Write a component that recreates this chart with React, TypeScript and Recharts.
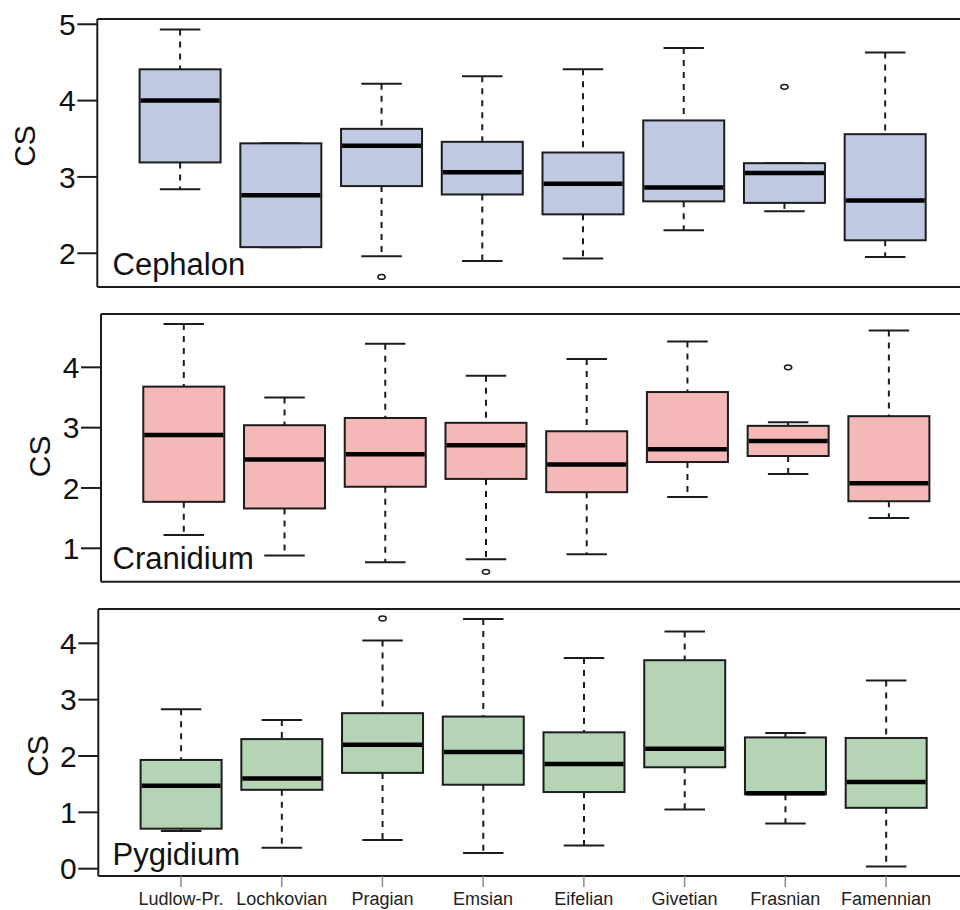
import React from 'react';
import { ComposedChart, Bar, XAxis, YAxis, Label } from 'recharts';

const periods = ['Ludlow-Pr.', 'Lochkovian', 'Pragian', 'Emsian', 'Eifelian', 'Givetian', 'Frasnian', 'Famennian'];

// Cephalon
const cephLow = [2.84, 2.08, 1.96, 1.90, 1.93, 2.30, 2.55, 1.95];
const cephQ1 = [3.19, 2.08, 2.88, 2.77, 2.51, 2.68, 2.66, 2.17];
const cephMed = [4.00, 2.76, 3.41, 3.06, 2.91, 2.86, 3.05, 2.69];
const cephQ3 = [4.41, 3.44, 3.63, 3.46, 3.32, 3.74, 3.18, 3.56];
const cephHigh = [4.93, 3.44, 4.22, 4.32, 4.41, 4.69, 3.18, 4.63];
const cephOut = [null, null, 1.69, null, null, null, 4.18, null];
const cephTicks = [2, 3, 4, 5];

// Cranidium
const cranLow = [1.22, 0.88, 0.77, 0.82, 0.90, 1.85, 2.23, 1.50];
const cranQ1 = [1.77, 1.66, 2.02, 2.15, 1.93, 2.43, 2.53, 1.78];
const cranMed = [2.88, 2.47, 2.56, 2.71, 2.39, 2.64, 2.78, 2.08];
const cranQ3 = [3.68, 3.04, 3.16, 3.08, 2.94, 3.59, 3.03, 3.19];
const cranHigh = [4.72, 3.50, 4.39, 3.86, 4.14, 4.43, 3.09, 4.61];
const cranOut = [null, null, null, 0.61, null, null, 4.00, null];
const cranTicks = [1, 2, 3, 4];

// Pygidium
const pygLow = [0.67, 0.37, 0.51, 0.28, 0.41, 1.05, 0.80, 0.04];
const pygQ1 = [0.71, 1.40, 1.70, 1.49, 1.36, 1.80, 1.32, 1.08];
const pygMed = [1.47, 1.60, 2.20, 2.07, 1.86, 2.13, 1.34, 1.54];
const pygQ3 = [1.93, 2.30, 2.76, 2.70, 2.42, 3.70, 2.33, 2.32];
const pygHigh = [2.83, 2.64, 4.05, 4.43, 3.74, 4.21, 2.41, 3.34];
const pygOut = [null, null, 4.44, null, null, null, null, null];
const pygTicks = [0, 1, 2, 3, 4];

const build = (low: number[], q1: number[], med: number[], q3: number[], high: number[], out: (number | null)[]) =>
  periods.map((cat, i) => ({ cat, low: low[i], q1: q1[i], med: med[i], q3: q3[i], high: high[i], out: out[i] }));

const cephData = build(cephLow, cephQ1, cephMed, cephQ3, cephHigh, cephOut);
const cranData = build(cranLow, cranQ1, cranMed, cranQ3, cranHigh, cranOut);
const pygData = build(pygLow, pygQ1, pygMed, pygQ3, pygHigh, pygOut);

const FONT = '"Liberation Sans", Arial, Helvetica, sans-serif';
const INK = '#1c1c1c';

const BoxShape = (props: any) => {
  const { x, y, width, height, payload, fill } = props;
  if (payload == null) return null;
  const top = Math.min(y, y + height);
  const bottom = Math.max(y, y + height);
  const { low, q1, med, q3, high, out } = payload;
  const k = high - low !== 0 ? (bottom - top) / (high - low) : 0;
  const py = (v: number) => top + (high - v) * k;
  const cx = x + width / 2;
  const capHalf = width / 4;
  const yQ3 = py(q3);
  const yQ1 = py(q1);
  const yMed = py(med);
  return (
    <g>
      <line x1={cx} x2={cx} y1={top} y2={yQ3} stroke={INK} strokeWidth={2} strokeDasharray="6 6" />
      <line x1={cx} x2={cx} y1={yQ1} y2={bottom} stroke={INK} strokeWidth={2} strokeDasharray="6 6" />
      <line x1={cx - capHalf} x2={cx + capHalf} y1={top} y2={top} stroke={INK} strokeWidth={2} />
      <line x1={cx - capHalf} x2={cx + capHalf} y1={bottom} y2={bottom} stroke={INK} strokeWidth={2} />
      <rect x={x} y={yQ3} width={width} height={yQ1 - yQ3} fill={fill} stroke={INK} strokeWidth={2} />
      <line x1={x + 1} x2={x + width - 1} y1={yMed} y2={yMed} stroke="#000" strokeWidth={4.5} />
      {out != null ? (
        <ellipse cx={cx} cy={py(out)} rx={3.6} ry={2.4} fill="none" stroke={INK} strokeWidth={1.5} />
      ) : null}
    </g>
  );
};

type PanelProps = {
  top: number;
  height: number;
  marginTop: number;
  marginBottom: number;
  marginRight: number;
  yWidth: number;
  domain: [number, number];
  ticks: number[];
  data: any[];
  fill: string;
  name: string;
  csX: number;
  csDy: number;
  nameX: number;
  nameDy: number;
  showX: boolean;
};

const Panel = (p: PanelProps) => {
  const labelContent = (lp: any) => {
    const vb = lp.viewBox || {};
    const cy = vb.y + vb.height / 2 + p.csDy;
    return (
      <g>
        <text
          x={p.csX}
          y={cy}
          transform={`rotate(-90, ${p.csX}, ${cy})`}
          textAnchor="middle"
          dominantBaseline="central"
          fontSize={30}
          fill="#111"
          fontFamily={FONT}
        >
          CS
        </text>
        <text x={p.nameX} y={vb.y + vb.height + p.nameDy} fontSize={31} fill="#111" fontFamily={FONT}>
          {p.name}
        </text>
      </g>
    );
  };
  return (
    <div style={{ position: 'absolute', left: 0, top: p.top, width: 1000, height: p.height }}>
      <ComposedChart
        width={1000}
        height={p.height}
        data={p.data}
        margin={{ top: p.marginTop - 1, bottom: p.showX ? p.marginBottom : p.marginBottom - 1, left: 0, right: p.marginRight }}
        style={{ fontFamily: FONT }}
      >
        <XAxis
          dataKey="cat"
          type="category"
          padding={{ left: 32.3, right: 32.3 }}
          axisLine={{ stroke: INK, strokeWidth: 2 }}
          tick={p.showX ? { fontSize: 18, fill: '#222', fontFamily: FONT } : false}
          tickLine={p.showX ? { stroke: '#8a8a8a', strokeWidth: 1.5 } : false}
          tickSize={11}
          tickMargin={5}
          interval={0}
          height={p.showX ? 34 : 1}
        />
        <XAxis
          xAxisId="top"
          dataKey="cat"
          type="category"
          orientation="top"
          axisLine={{ stroke: INK, strokeWidth: 2 }}
          tick={false}
          tickLine={false}
          height={1}
        />
        <YAxis
          type="number"
          domain={p.domain}
          ticks={p.ticks}
          allowDataOverflow
          interval={0}
          width={p.yWidth}
          axisLine={{ stroke: INK, strokeWidth: 2 }}
          tickLine={{ stroke: INK, strokeWidth: 2 }}
          tickSize={20}
          tickMargin={1.5}
          tick={{ fontSize: 30, fill: '#111', fontFamily: FONT }}
        >
          <Label content={labelContent} />
        </YAxis>
        <Bar
          dataKey={(d: any) => [d.low, d.high]}
          barSize={81}
          fill={p.fill}
          shape={<BoxShape />}
          isAnimationActive={false}
        />
      </ComposedChart>
    </div>
  );
};

export default function App() {
  return (
    <div
      style={{
        position: 'absolute',
        left: 0,
        top: 0,
        width: 960,
        height: 910,
        overflow: 'hidden',
        background: '#fff',
        fontFamily: FONT,
      }}
    >
      <Panel
        top={0}
        height={290}
        marginTop={19}
        marginBottom={3}
        marginRight={32.3}
        yWidth={97.3}
        domain={[1.558, 5.069]}
        ticks={cephTicks}
        data={cephData}
        fill="#BFC9E2"
        name="Cephalon"
        csX={24}
        csDy={-7}
        nameX={112.5}
        nameDy={-12}
        showX={false}
      />
      <Panel
        top={295}
        height={290}
        marginTop={19}
        marginBottom={3.3}
        marginRight={28.6}
        yWidth={101}
        domain={[0.446, 4.884]}
        ticks={cranTicks}
        data={cranData}
        fill="#F5B8B9"
        name="Cranidium"
        csX={40}
        csDy={8.5}
        nameX={112.5}
        nameDy={-12.7}
        showX={false}
      />
      <Panel
        top={590}
        height={320}
        marginTop={19}
        marginBottom={0}
        marginRight={31.3}
        yWidth={98.3}
        domain={[-0.13, 4.609]}
        ticks={pygTicks}
        data={pygData}
        fill="#B5D3B5"
        name="Pygidium"
        csX={37}
        csDy={13.5}
        nameX={112.5}
        nameDy={-11}
        showX={true}
      />
    </div>
  );
}
